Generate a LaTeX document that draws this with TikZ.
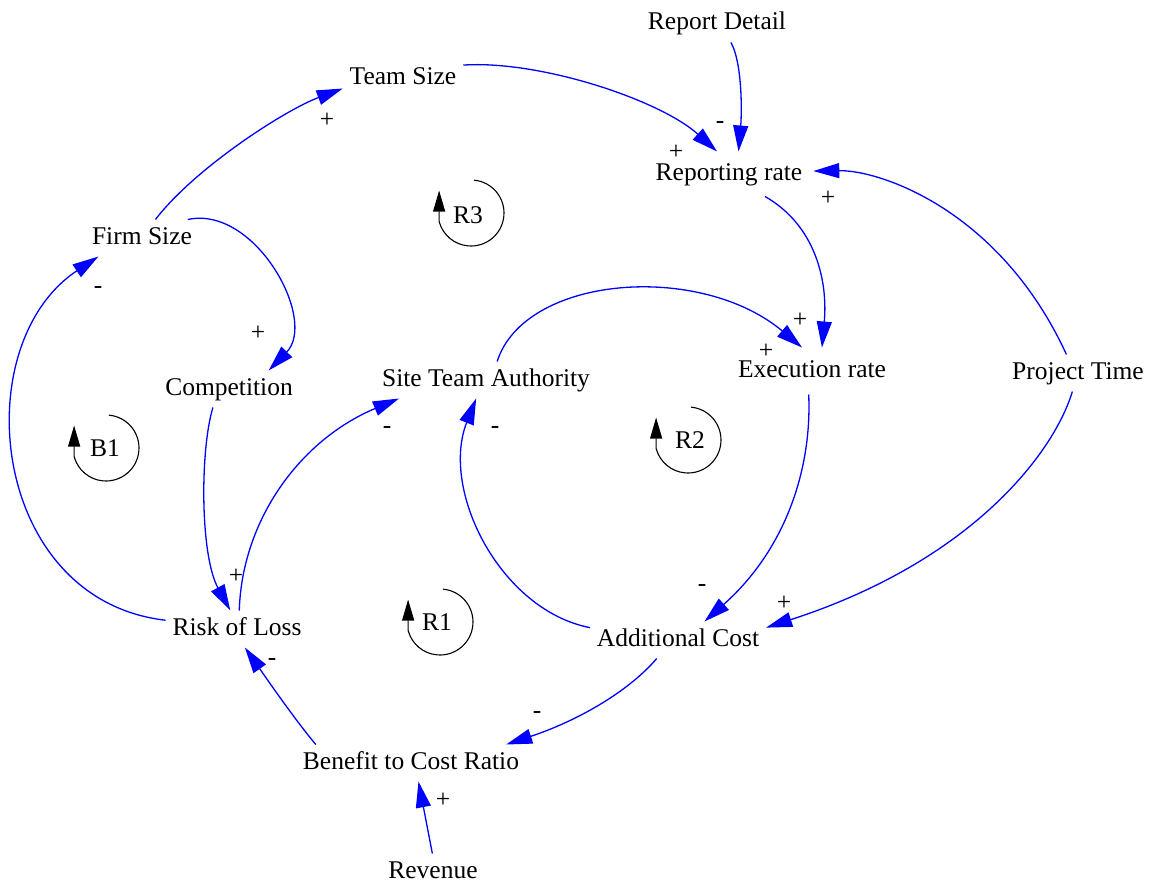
\documentclass[tikz,border=0pt]{standalone}
\usepackage{fontspec}
\setmainfont{Liberation Serif}
\usetikzlibrary{arrows.meta}
\definecolor{linkblue}{RGB}{0,0,255}
\begin{document}
\begin{tikzpicture}[x=1pt,y=-1pt,
  every node/.style={font=\fontsize{25.5}{30}\selectfont},
  var/.style={anchor=base,text height=17.5pt,text depth=5.5pt,inner sep=2pt,outer sep=5pt},
  pol/.style={inner sep=0pt},
  link/.style={draw=linkblue,line width=1.3pt,-{Triangle[length=26pt,width=15pt]}},
  loopmark/.style={draw=black,line width=1.1pt,-{Triangle[length=21pt,width=12pt]}},
  loopsym/.pic={\draw[loopmark] (-85:33) arc[start angle=-85,end angle=165,radius=33] -- ++(0,-31);}
]
\useasboundingbox (0,0) rectangle (1157,888);

% variables
\node[var] (detail) at (717,30) {Report Detail};
\node[var] (team) at (403,85) {Team Size};
\node[var,outer sep=9pt] (rrate) at (729,180) {Reporting rate};
\node[var] (firm) at (142,244) {Firm Size};
\node[var] (comp) at (229,395) {Competition};
\node[var] (auth) at (486,386) {Site Team Authority};
\node[var,outer sep=10pt] (exec) at (812,377) {Execution rate};
\node[var] (ptime) at (1078,379) {Project Time};
\node[var] (risk) at (237,635) {Risk of Loss};
\node[var] (cost) at (678,646) {Additional Cost};
\node[var] (bcr) at (411,769) {Benefit to Cost Ratio};
\node[var] (rev) at (433,878) {Revenue};

% causal links
\draw[link] (firm.54) .. controls (195,168) and (285,110) .. (team.189);
\draw[link] (team.13) .. controls (540,60) and (660,100) .. (rrate.118);
\draw[link] (detail.-53) .. controls (742,62) and (742,110) .. (rrate.67);
\draw[link] (ptime.122) .. controls (1000,210) and (880,170) .. (rrate.2);
\draw[link] (rrate.-32) .. controls (815,225) and (828,280) .. (exec.67);
\draw[link] (firm.22) .. controls (255,205) and (318,320) .. (comp.25);
\draw[link] (auth.59) .. controls (525,275) and (700,262) .. (exec.113);
\draw[link] (exec.-98) .. controls (812,470) and (785,550) .. (cost.35);
\draw[link] (ptime.-107) .. controls (1055,450) and (975,560) .. (cost.8);
\draw[link] (cost.172) .. controls (500,610) and (440,490) .. (auth.-118);
\draw[link] (comp.-131) .. controls (200,450) and (200,555) .. (risk.110);
\draw[link] (risk.83) .. controls (242,520) and (300,440) .. (auth.192);
\draw[link] (risk.173) .. controls (-10,600) and (-35,345) .. (firm.-157);
\draw[link] (bcr.169) .. controls (295,720) and (262,672) .. (risk.-67);
\draw[link] (cost.-139) .. controls (630,690) and (580,720) .. (bcr.11);
\draw[link] (rev.92) -- (bcr.-68);

% link polarities
\node[pol] (p1) at (327,120) {+};
\node[pol] (p2) at (676,152) {+};
\node[pol] (p3) at (720,125) {-};
\node[pol] (p4) at (828,198) {+};
\node[pol] (p5) at (800,320) {+};
\node[pol] (p6) at (258,333) {+};
\node[pol] (p7) at (766,351) {+};
\node[pol] (p8) at (702,588) {-};
\node[pol] (p9) at (784,603) {+};
\node[pol] (p10) at (495,430) {-};
\node[pol] (p11) at (236,576) {+};
\node[pol] (p12) at (387,430) {-};
\node[pol] (p13) at (98,290) {-};
\node[pol] (p14) at (272,662) {-};
\node[pol] (p15) at (537,715) {-};
\node[pol] (p16) at (443,800) {+};

% loop markers
\pic at (471,213) {loopsym}; \node (r3) at (468,215) {R3};
\pic at (106,448) {loopsym}; \node (b1) at (105,448) {B1};
\pic at (688,440) {loopsym}; \node (r2) at (690,440) {R2};
\pic at (440,622) {loopsym}; \node (r1) at (437,622) {R1};
\end{tikzpicture}
\end{document}
